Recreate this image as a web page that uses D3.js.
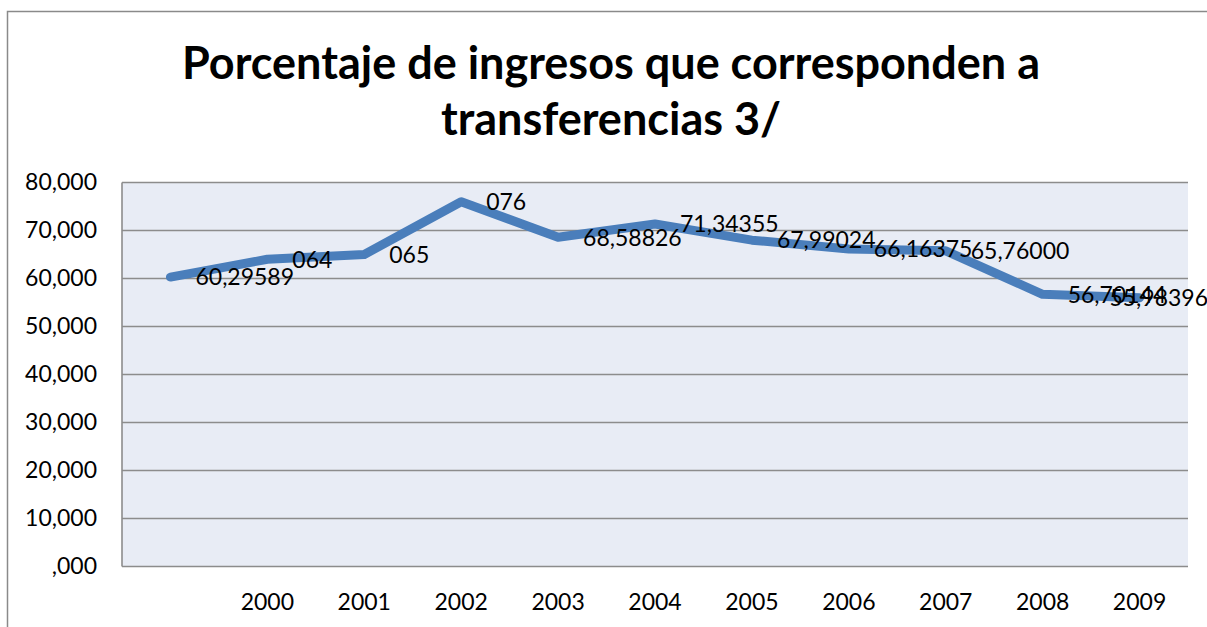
<!DOCTYPE html>
<html>
<head>
<meta charset="utf-8">
<script src="https://cdn.jsdelivr.net/npm/d3@7"></script>
<style>
  body { margin: 0; background: #fff; }
  svg { display: block; font-family: Lato, "Open Sans", sans-serif; }
</style>
</head>
<body>
<div id="chart"></div>
<script>
// DATA
const categories = ["", "2000", "2001", "2002", "2003", "2004", "2005", "2006", "2007", "2008", "2009"];
const values = [60.29589, 64, 65, 76, 68.58826, 71.34355, 67.99024, 66.16375, 65.76, 56.70144, 55.98396];
const pointLabels = ["60,29589", "064", "065", "076", "68,58826", "71,34355", "67,99024", "66,16375", "65,76000", "56,70144", "55,98396"];
const yTicks = [0, 10, 20, 30, 40, 50, 60, 70, 80];
const titleLines = ["Porcentaje de ingresos que corresponden a", "transferencias 3/"];

const width = 1207, height = 627;
const margin = { top: 182.5, right: 19, bottom: 60.5, left: 122 };
const innerW = width - margin.left - margin.right;
const innerH = height - margin.top - margin.bottom;

const locale = d3.formatLocale({ decimal: ",", thousands: ".", grouping: [3], currency: ["", ""] });
const fmt = locale.format(".3f");
const tickFormat = (d) => fmt(d).replace(/^0,/, ",");

const svg = d3.select("#chart").append("svg")
  .attr("width", width)
  .attr("height", height);

// chart border (cropped at right and bottom)
svg.append("rect")
  .attr("x", 7.5).attr("y", 11.5)
  .attr("width", 1260).attr("height", 700)
  .attr("fill", "#fff")
  .attr("stroke", "#8a8a8a")
  .attr("stroke-width", 1.5);

// TITLE
svg.append("text")
  .attr("x", 611)
  .attr("y", 79)
  .attr("text-anchor", "middle")
  .style("font-weight", "bold")
  .style("font-size", "45px")
  .selectAll("tspan")
  .data(titleLines)
  .enter()
  .append("tspan")
  .attr("x", 611)
  .attr("dy", (d, i) => (i === 0 ? 0 : 56))
  .text((d) => d);

const x = d3.scaleBand().domain(categories.map((d, i) => i)).range([0, innerW]).padding(0);
const y = d3.scaleLinear().domain([0, 80]).range([innerH, 0]);

const g = svg.append("g").attr("transform", `translate(${margin.left},${margin.top})`);

g.append("rect")
  .attr("width", innerW).attr("height", innerH)
  .attr("fill", "#e8ecf5");

// GRIDLINES
g.append("g")
  .selectAll("line")
  .data(yTicks)
  .enter()
  .append("line")
  .attr("x1", 0).attr("x2", innerW)
  .attr("y1", (d) => y(d)).attr("y2", (d) => y(d))
  .attr("stroke", "#8c8c8c")
  .attr("stroke-width", 1.6);

// left axis line
g.append("line")
  .attr("x1", 0).attr("x2", 0)
  .attr("y1", 0).attr("y2", innerH)
  .attr("stroke", "#8c8c8c")
  .attr("stroke-width", 1.6);

// Y AXIS
const yAxis = g.append("g")
  .call(d3.axisLeft(y).tickValues(yTicks).tickFormat(tickFormat).tickSize(0).tickPadding(25));
yAxis.select(".domain").remove();
yAxis.selectAll("text")
  .style("font-family", "Lato, 'Open Sans', sans-serif")
  .style("font-size", "23px")
  .attr("fill", "#000");

// X AXIS
const xAxis = g.append("g")
  .attr("transform", `translate(0,${innerH})`)
  .call(d3.axisBottom(x).tickFormat((i) => categories[i]).tickSize(0).tickPadding(27));
xAxis.select(".domain").remove();
xAxis.selectAll("text")
  .style("font-family", "Lato, 'Open Sans', sans-serif")
  .style("font-size", "23px")
  .attr("fill", "#000");

const cx = (i) => x(i) + x.bandwidth() / 2;

// LINE
const line = d3.line()
  .x((d, i) => cx(i))
  .y((d) => y(d));

g.append("path")
  .datum(values)
  .attr("d", line)
  .attr("fill", "none")
  .attr("stroke", "#4a7ebb")
  .attr("stroke-width", 9)
  .attr("stroke-linejoin", "round")
  .attr("stroke-linecap", "round");

// DATA LABELS
const labels = g.append("g")
  .selectAll("text")
  .data(values)
  .enter()
  .append("text")
  .attr("x", (d, i) => cx(i) + 25)
  .attr("y", (d) => y(d))
  .attr("dy", "0.36em")
  .style("font-size", "23px")
  .attr("fill", "#000")
  .text((d, i) => pointLabels[i]);

// keep labels inside the chart's right edge
const maxRight = width + 1 - margin.left;
labels.each(function () {
  const w = this.getComputedTextLength();
  const lx = +this.getAttribute("x");
  if (lx + w > maxRight) this.setAttribute("x", maxRight - w);
});
</script>
</body>
</html>
